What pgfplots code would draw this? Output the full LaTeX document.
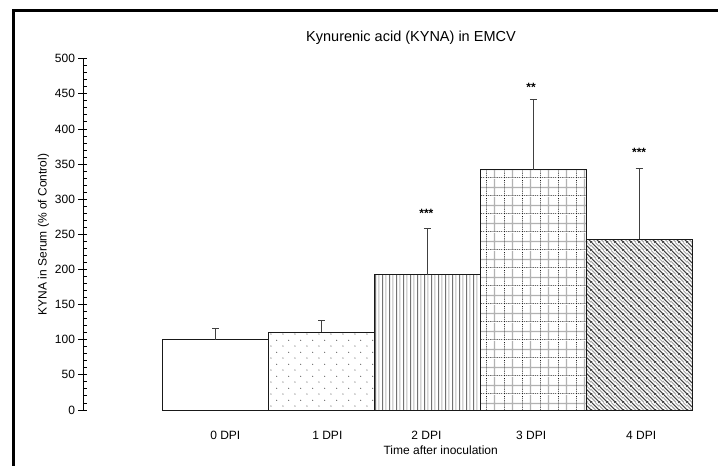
\documentclass[border=0pt]{standalone}
\usepackage{pgfplots}
\pgfplotsset{compat=1.18}
\usepackage{fontspec}
\setmainfont{Liberation Sans}
\usetikzlibrary{patterns}

% sparse staggered dots
\pgfdeclarepatternformonly{sparsedots}{\pgfqpoint{0pt}{0pt}}{\pgfqpoint{11.7pt}{11.7pt}}{\pgfqpoint{11.7pt}{11.7pt}}{%
  \pgfpathcircle{\pgfqpoint{2pt}{2pt}}{0.6pt}%
  \pgfpathcircle{\pgfqpoint{7.85pt}{7.85pt}}{0.6pt}%
  \pgfusepath{fill}}
% alternating vertical lines
\pgfdeclarepatterninherentlycolored{vlinesalt}{\pgfqpoint{0pt}{0pt}}{\pgfqpoint{7.2pt}{1pt}}{\pgfqpoint{7.2pt}{1pt}}{%
  \pgfsetlinewidth{1pt}%
  \pgfsetstrokecolor{black!85}%
  \pgfpathmoveto{\pgfqpoint{1.8pt}{-0.2pt}}\pgfpathlineto{\pgfqpoint{1.8pt}{1.2pt}}\pgfusepath{stroke}%
  \pgfsetstrokecolor{black!40}%
  \pgfpathmoveto{\pgfqpoint{5.4pt}{-0.2pt}}\pgfpathlineto{\pgfqpoint{5.4pt}{1.2pt}}\pgfusepath{stroke}}
% grid: dark dotted lines + gray lines
\pgfdeclarepatterninherentlycolored{gridalt}{\pgfqpoint{0pt}{0pt}}{\pgfqpoint{18pt}{18pt}}{\pgfqpoint{18pt}{18pt}}{%
  \pgfsetlinewidth{1.3pt}%
  \pgfsetstrokecolor{black!30}%
  \pgfpathmoveto{\pgfqpoint{9pt}{0pt}}\pgfpathlineto{\pgfqpoint{9pt}{18pt}}%
  \pgfpathmoveto{\pgfqpoint{0pt}{9pt}}\pgfpathlineto{\pgfqpoint{18pt}{9pt}}\pgfusepath{stroke}%
  \pgfsetlinewidth{0.8pt}%
  \pgfsetstrokecolor{black!90}%
  \pgfsetdash{{0.8pt}{1.2pt}}{0pt}%
  \pgfpathmoveto{\pgfqpoint{0.5pt}{0pt}}\pgfpathlineto{\pgfqpoint{0.5pt}{18pt}}%
  \pgfpathmoveto{\pgfqpoint{0pt}{0.5pt}}\pgfpathlineto{\pgfqpoint{18pt}{0.5pt}}\pgfusepath{stroke}}
% alternating diagonal lines (\ direction)
\pgfdeclarepatterninherentlycolored{diagalt}{\pgfqpoint{0pt}{0pt}}{\pgfqpoint{8pt}{8pt}}{\pgfqpoint{8pt}{8pt}}{%
  \pgfsetlinewidth{1.1pt}%
  \pgfsetstrokecolor{black!75}%
  \pgfpathmoveto{\pgfqpoint{-0.5pt}{8.5pt}}\pgfpathlineto{\pgfqpoint{8.5pt}{-0.5pt}}%
  \pgfpathmoveto{\pgfqpoint{-1pt}{1pt}}\pgfpathlineto{\pgfqpoint{1pt}{-1pt}}%
  \pgfpathmoveto{\pgfqpoint{7pt}{9pt}}\pgfpathlineto{\pgfqpoint{9pt}{7pt}}\pgfusepath{stroke}%
  \pgfsetstrokecolor{black!35}%
  \pgfpathmoveto{\pgfqpoint{-0.5pt}{4.5pt}}\pgfpathlineto{\pgfqpoint{4.5pt}{-0.5pt}}%
  \pgfpathmoveto{\pgfqpoint{3.5pt}{8.5pt}}\pgfpathlineto{\pgfqpoint{8.5pt}{3.5pt}}\pgfusepath{stroke}}

\newcommand{\f}{\fontsize{12}{14}\selectfont}

\begin{document}
\begin{tikzpicture}
\useasboundingbox (0,0) rectangle (718pt,466pt);
\fill[white] (0,0) rectangle (718pt,466pt);
\draw[line width=3pt, black] (13.3pt,-20pt) -- (13.3pt,455.5pt) -- (760pt,455.5pt);

\pgfplotsset{
  bars/.style={ybar, bar shift=0pt, bar width=105.8pt, draw=black!90, line width=0.9pt,
    error bars/y dir=plus, error bars/y explicit,
    error bars/error bar style={line width=1pt, black!75},
    error bars/error mark options={rotate=90, mark size=3.5pt, line width=1pt, black!75}},
}

\begin{axis}[
  at={(83pt,56pt)}, anchor=south west,
  scale only axis, width=609pt, height=351.3pt,
  xmin=-1.255, xmax=4.5, ymin=0, ymax=500,
  axis y line*=left, axis x line*=bottom,
  x axis line style={draw=none},
  y axis line style={line width=0.9pt, black, -},
  xtick={0.09,1.054,1.99,2.98,4.02},
  xticklabels={0 DPI,1 DPI,2 DPI,3 DPI,4 DPI},
  xtick style={draw=none},
  ytick={0,50,...,500},
  ytick style={line width=0.9pt, black},
  tick align=outside, major tick length=4.5pt,
  /pgf/number format/assume math mode=true,
  tick label style={font=\f},
  xticklabel style={yshift=-13pt},
  ylabel={KYNA in Serum (\% of Control)},
  ylabel style={font=\f, yshift=-1pt},
  clip=false,
]
\addplot[bars, fill=white] coordinates {(0,100) +- (0,15.8)};
\addplot[bars, pattern=sparsedots, pattern color=black!70] coordinates {(1,111) +- (0,17)};
\addplot[bars, pattern=vlinesalt] coordinates {(2,192.3) +- (0,66.5)};
\addplot[bars, pattern=gridalt] coordinates {(3,341.9) +- (0,100.7)};
\addplot[bars, pattern=diagalt] coordinates {(4,243.2) +- (0,100.1)};
\node[anchor=base, font=\f\bfseries] at (axis cs:1.99,274) {***};
\node[anchor=base, font=\f\bfseries] at (axis cs:2.98,454) {**};
\node[anchor=base, font=\f\bfseries] at (axis cs:4.0,361.4) {***};
\end{axis}

\begin{axis}[
  at={(83pt,56pt)}, anchor=south west,
  scale only axis, width=609pt, height=351.3pt,
  xmin=-1.255, xmax=4.5, ymin=0, ymax=500,
  axis x line=none, axis y line*=left,
  y axis line style={line width=0.9pt, black, -},
  ytick={0,50,...,500}, yticklabels={},
  minor y tick num=4,
  tick align=inside, major tick length=3.5pt, minor tick length=3.5pt,
  ytick style={line width=0.9pt, black},
  minor tick style={line width=0.8pt, black},
]
\end{axis}

\node[font=\fontsize{14.5}{17}\selectfont] at (411pt,428pt) {Kynurenic acid (KYNA) in EMCV};
\node[font=\f] at (440.7pt,16pt) {Time after inoculation};
\end{tikzpicture}
\end{document}
